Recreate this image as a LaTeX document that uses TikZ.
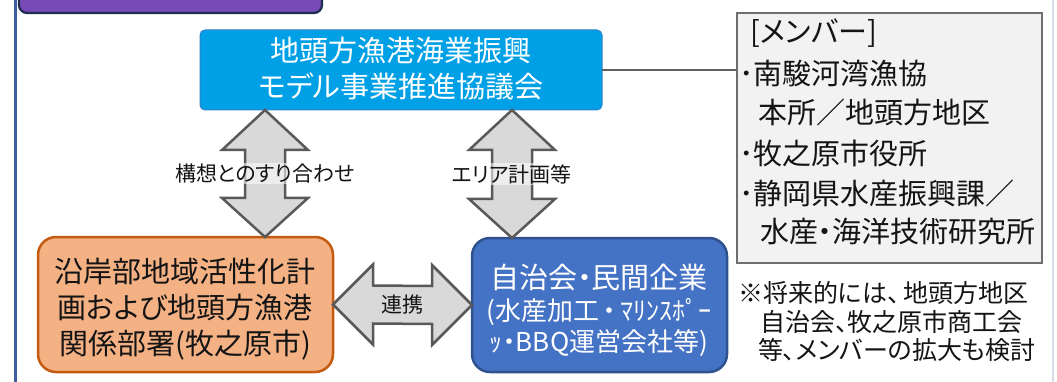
\documentclass[tikz,border=0pt]{standalone}
\usepackage{fontspec}
\setmainfont{Noto Sans CJK JP}[RawFeature=+palt]
\usetikzlibrary{calc}
\definecolor{purplefill}{RGB}{120,74,184}
\definecolor{navyline}{RGB}{31,45,78}
\definecolor{framecol}{RGB}{63,94,160}
\definecolor{faintcol}{RGB}{214,220,232}
\definecolor{topblue}{RGB}{0,160,230}
\definecolor{topline}{RGB}{47,130,200}
\definecolor{orfill}{RGB}{244,177,131}
\definecolor{orline}{RGB}{197,90,17}
\definecolor{bbfill}{RGB}{68,114,196}
\definecolor{bbline}{RGB}{47,82,143}
\definecolor{memfill}{RGB}{242,242,242}
\definecolor{memline}{RGB}{110,110,110}
\definecolor{arfill}{RGB}{217,217,217}
\definecolor{arline}{RGB}{89,89,89}
\definecolor{connline}{RGB}{96,96,96}
\definecolor{txt}{RGB}{20,20,20}
\newcommand\vblock[2]{\draw[blockarrow] (#1) -- ++(43,-40) -- ++(-23,0) -- ($(#2)+(20,39)$) -- ++(23,0) -- (#2) -- ++(-43,39) -- ++(23,0) -- ($(#1)+(-20,-40)$) -- ++(-23,0) -- cycle;}
\begin{document}
\begin{tikzpicture}[x=1pt,y=1pt,
  boxbase/.style={inner sep=0pt, outer sep=0pt},
  blockarrow/.style={draw=arline, fill=arfill, line width=2.5pt, line join=miter},
  lbl/.style={font=\fontsize{21}{24}\selectfont, inner sep=1pt, fill=white, fill opacity=0.55, text opacity=1, text=txt},
  bigtxt/.style={font=\fontsize{29}{36}\selectfont, inner sep=0pt, align=center},
  memtxt/.style={font=\fontsize{29}{36}\selectfont, inner sep=0pt, anchor=west, text=txt},
  notetxt/.style={font=\fontsize{25}{29}\selectfont, inner sep=0pt, anchor=west, text=txt}]
\useasboundingbox (0,0) rectangle (1057,-382);
% frame
\draw[framecol, line width=3pt] (15,0) -- (15,-382);
\draw[faintcol, line width=1.5pt] (1053,0) -- (1053,-382);
% purple header box (cut off)
\node[boxbase, draw=navyline, fill=purplefill, line width=2.2pt, rounded corners=8pt,
  minimum width=303pt, minimum height=40pt] (head) at (170.5,7) {};
% main boxes
\node[boxbase, draw=topline, fill=topblue, line width=1pt, rounded corners=5pt,
  minimum width=402pt, minimum height=80pt] (top) at (401,-70) {};
\node[boxbase, draw=memline, fill=memfill, line width=2.2pt,
  minimum width=305pt, minimum height=250pt] (members) at (889.5,-138) {};
\node[boxbase, draw=orline, fill=orfill, line width=2.5pt, rounded corners=18pt,
  minimum width=295pt, minimum height=135pt] (orange) at (185.5,-304.5) {};
\node[boxbase, draw=bbline, fill=bbfill, line width=2.5pt, rounded corners=18pt,
  minimum width=255pt, minimum height=134pt] (blue) at (599.5,-305) {};
% connector to members
\draw[connline, line width=2.5pt] (top.east) -- (top.east -| members.west);
% texts in boxes
\node[bigtxt, text=white] (toptxt) at (401,-69) {地頭方漁港海業振興\\モデル事業推進協議会};
\node[bigtxt, text=txt] (ortxt) at (185,-309) {沿岸部地域活性化計\\画および地頭方漁港\\関係部署(牧之原市)};
\node[bigtxt, text=white] (bltxt1) at (599,-277) {自治会・民間企業};
\node[font=\fontsize{26}{31}\selectfont, inner sep=0pt, align=center, text=white] (bltxt2) at (599,-327.5) {(水産加工\,・\,ﾏﾘﾝｽﾎﾟｰ\\ｯ・BBQ運営会社等)};
% member lines
\node[memtxt] (m0) at (750,-33) {[メンバー]};
\node[memtxt] (m1) at (739,-73) {･南駿河湾漁協};
\node[memtxt] (m2) at (758,-112) {本所／地頭方地区};
\node[memtxt] (m3) at (739,-153) {･牧之原市役所};
\node[memtxt] (m4) at (739,-193) {･静岡県水産振興課／};
\node[memtxt] (m5) at (760,-232) {水産・海洋技術研究所};
% note
\node[notetxt] (n1) at (738,-293) {※将来的には、\,地頭方地区};
\node[notetxt] (n2) at (760,-322) {自治会、牧之原市商工会};
\node[notetxt] (n3) at (758,-350) {等、メンバーの拡大も検討};
% block arrows
\coordinate (v1t) at ($(top.south west)+(65,0)$);
\coordinate (v1b) at (v1t |- orange.north);
\coordinate (v2t) at ($(top.south west)+(312,0)$);
\coordinate (v2b) at (v2t |- blue.north);
\vblock{v1t}{v1b}
\vblock{v2t}{v2b}
\draw[blockarrow] (orange.east) -- ++(40,40) -- ++(0,-21) -- ($(blue.west)+(-40,19)$) -- ++(0,21) -- (blue.west) -- ++(-40,-40) -- ++(0,21) -- ($(orange.east)+(40,-19)$) -- ++(0,-21) -- cycle;
\node[lbl] (l1) at ($(v1t)!0.5!(v1b)$) {構想とのすり合わせ};
\node[lbl] (l2) at ($(v2t)!0.5!(v2b)$) {エリア計画等};
\node[lbl, fill opacity=0] (l3) at ($(orange.east)!0.5!(blue.west)$) {連携};
\end{tikzpicture}
\end{document}
